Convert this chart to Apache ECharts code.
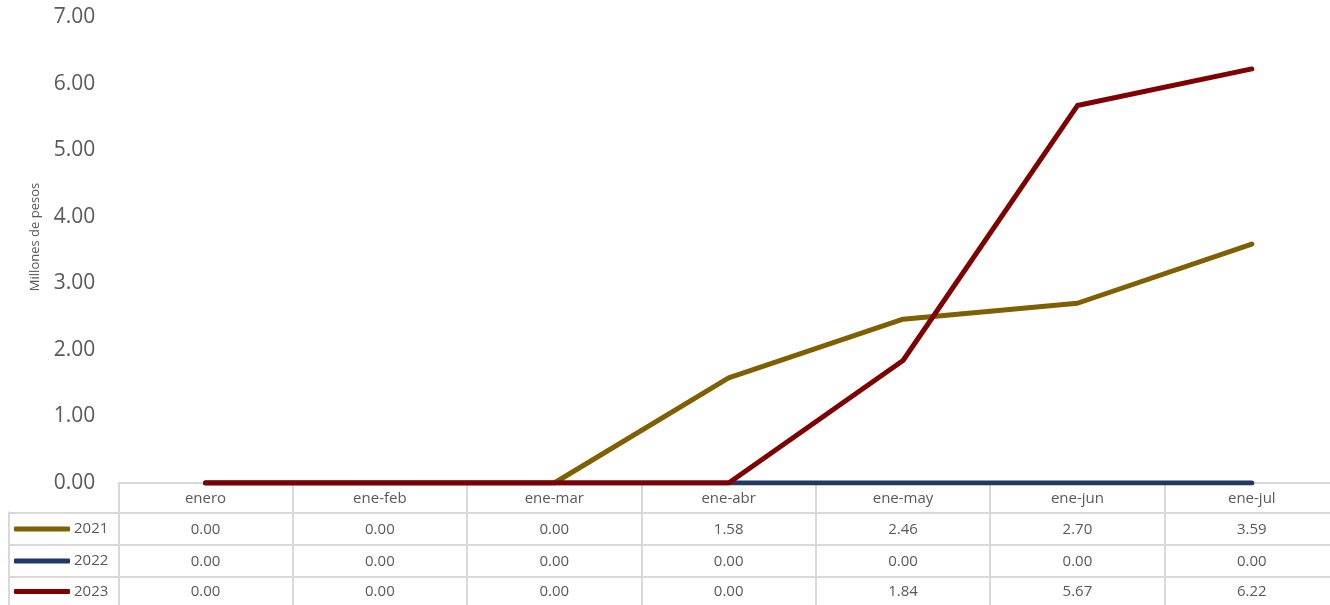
<!DOCTYPE html>
<html>
<head>
<meta charset="utf-8">
<script src="https://cdn.jsdelivr.net/npm/echarts@6/dist/echarts.min.js"></script>
<style>
html,body{margin:0;padding:0;background:#fff;}
#c{width:1330px;height:605px;}
</style>
</head>
<body>
<div id="c"></div>
<script>
var categories = ['enero', 'ene-feb', 'ene-mar', 'ene-abr', 'ene-may', 'ene-jun', 'ene-jul'];
var seriesNames = ['2021', '2022', '2023'];
var values2021 = [0.00, 0.00, 0.00, 1.58, 2.46, 2.70, 3.59];
var values2022 = [0.00, 0.00, 0.00, 0.00, 0.00, 0.00, 0.00];
var values2023 = [0.00, 0.00, 0.00, 0.00, 1.84, 5.67, 6.22];
var colors = ['#7f6000', '#1f3864', '#7f0000'];
var yTicks = { min: 0, max: 7, interval: 1 };

var allValues = [values2021, values2022, values2023];
var FONT = '"Open Sans", "Noto Sans", sans-serif';
var GREY = '#d9d9d9';
var TXT = '#595959';

var chart = echarts.init(document.getElementById('c'), null, { renderer: 'canvas' });

var rowOffsets = [38.5, 70.5, 101];
var rowCenters = [529, 561, 591.5];

var xAxes = [{
  type: 'category',
  gridIndex: 0,
  data: categories,
  boundaryGap: true,
  position: 'bottom',
  axisLine: { show: true, lineStyle: { color: GREY, width: 2 } },
  axisTick: { show: true, interval: 0, length: 126, lineStyle: { color: GREY, width: 2 } },
  axisLabel: { show: true, interval: 0, margin: 8, color: TXT, fontFamily: FONT, fontSize: 15, lineHeight: 16 },
  splitLine: { show: false }
}];
allValues.forEach(function (vals, i) {
  xAxes.push({
    type: 'category',
    gridIndex: 0,
    data: categories,
    boundaryGap: true,
    position: 'bottom',
    offset: rowOffsets[i],
    axisLine: { show: false },
    axisTick: { show: false },
    axisLabel: {
      show: true, interval: 0, margin: 0, color: TXT, fontFamily: FONT, fontSize: 15, lineHeight: 16,
      formatter: (function (v) { return function (val, idx) { return v[idx].toFixed(2); }; })(vals)
    },
    splitLine: { show: false }
  });
});
xAxes.push({ type: 'value', gridIndex: 1, show: false, min: 0, max: 1 });

var legends = seriesNames.map(function (n, i) {
  return {
    data: [n],
    left: 14,
    top: rowCenters[i] - 8,
    itemWidth: 56,
    itemHeight: 5,
    icon: 'roundRect',
    itemGap: 0,
    padding: 0,
    selectedMode: false,
    textStyle: { color: TXT, fontFamily: FONT, fontSize: 15, lineHeight: 16, padding: [0, 0, 0, -1] }
  };
});

var series = allValues.map(function (vals, i) {
  return {
    name: seriesNames[i],
    type: 'line',
    xAxisIndex: 0,
    yAxisIndex: 0,
    data: vals,
    symbol: 'none',
    showSymbol: false,
    color: colors[i],
    lineStyle: { color: colors[i], width: 5, cap: 'round', join: 'round' },
    itemStyle: { color: colors[i] },
    z: 10 + i,
    animation: false
  };
});

chart.setOption({
  animation: false,
  backgroundColor: '#ffffff',
  legend: legends,
  grid: [
    { left: 118.3, width: 1220.7, top: 17, bottom: 122, containLabel: false, outerBoundsMode: 'none' },
    { left: 8.3, width: 1330.7, top: 512.3, height: 97, containLabel: false, outerBoundsMode: 'none' }
  ],
  xAxis: xAxes,
  yAxis: [{
    type: 'value',
    gridIndex: 0,
    min: yTicks.min,
    max: yTicks.max,
    interval: yTicks.interval,
    name: 'Millones de pesos',
    nameLocation: 'middle',
    nameRotate: 90,
    nameGap: 77,
    nameTextStyle: { color: TXT, fontFamily: FONT, fontSize: 13, padding: [0, 0, 0, 26] },
    axisLine: { show: false },
    axisTick: { show: false },
    splitLine: { show: false },
    axisLabel: { color: TXT, fontFamily: FONT, fontSize: 21, margin: 23, formatter: function (v) { return v.toFixed(2); } }
  }, {
    type: 'value',
    gridIndex: 1,
    min: 0,
    max: 3,
    interval: 1,
    inverse: true,
    axisLine: { show: true, lineStyle: { color: GREY, width: 2 } },
    axisTick: { show: false },
    axisLabel: { show: false },
    splitLine: { show: true, lineStyle: { color: GREY, width: 2 } }
  }],
  series: series
});
</script>
</body>
</html>
